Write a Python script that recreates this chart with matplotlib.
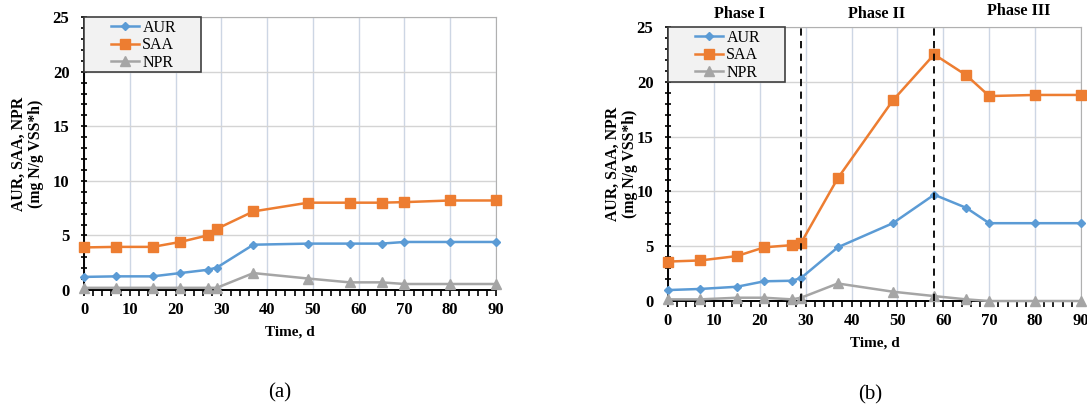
import matplotlib
matplotlib.use("Agg")
import matplotlib.pyplot as plt
from matplotlib.ticker import MultipleLocator
from matplotlib.patches import Rectangle

time_d = [0, 7, 15, 21, 27, 29, 37, 49, 58, 65, 70, 80, 90]

aur_a = [1.2, 1.25, 1.25, 1.55, 1.85, 2.05, 4.15, 4.25, 4.25, 4.25, 4.4, 4.4, 4.4]
saa_a = [3.9, 3.95, 3.95, 4.4, 5.0, 5.6, 7.2, 8.0, 8.0, 8.0, 8.05, 8.2, 8.2]
npr_a = [0.2, 0.2, 0.2, 0.2, 0.2, 0.2, 1.55, 1.05, 0.7, 0.7, 0.55, 0.55, 0.55]

aur_b = [1.0, 1.1, 1.3, 1.8, 1.85, 2.1, 4.9, 7.1, 9.7, 8.5, 7.1, 7.1, 7.1]
saa_b = [3.6, 3.7, 4.1, 4.9, 5.1, 5.3, 11.2, 18.3, 22.5, 20.6, 18.7, 18.8, 18.8]
npr_b = [0.15, 0.15, 0.3, 0.3, 0.15, 0.3, 1.6, 0.85, 0.45, 0.15, 0.0, 0.0, 0.0]

phase_bounds = [29, 58]
phase_labels = ["Phase I", "Phase II", "Phase III"]
phase_label_x = [15.5, 45.5, 76.5]

series_names = ["AUR", "SAA", "NPR"]
colors = ["#5B9BD5", "#ED7D31", "#A5A5A5"]
markers = ["D", "s", "^"]
msizes = [4.5, 6.5, 6.5]

plt.rcParams['font.family'] = ['Liberation Serif', 'DejaVu Serif']

fig = plt.figure(figsize=(10.87, 4.11), dpi=100)
ax_a = fig.add_axes([0.0773, 0.2944, 0.379, 0.664])
ax_b = fig.add_axes([0.6145, 0.2676, 0.380, 0.6667])

def style(ax, data, ylab_x):
    for vals, name, c, m, ms in zip(data, series_names, colors, markers, msizes):
        ax.plot(time_d, vals, color=c, marker=m, markersize=ms, lw=1.8, label=name,
                zorder=3, clip_on=False)
    ax.set_xlim(0, 90)
    ax.set_ylim(0, 25)
    ax.xaxis.set_major_locator(MultipleLocator(10))
    ax.yaxis.set_major_locator(MultipleLocator(5))
    ax.xaxis.set_minor_locator(MultipleLocator(2))
    ax.yaxis.set_minor_locator(MultipleLocator(1))
    ax.tick_params(axis='x', which='both', direction='out', length=4, width=1.2, colors='black')
    ax.tick_params(axis='y', which='both', direction='inout', length=5, width=1.2, colors='black')
    ax.tick_params(axis='x', which='major', labelsize=12, pad=4.5)
    ax.tick_params(axis='y', which='major', labelsize=12, pad=8)
    for lab in ax.get_xticklabels() + ax.get_yticklabels():
        lab.set_fontweight('bold')
    ax.grid(True, axis='x', which='major', color='#cdd6e4', lw=1)
    ax.grid(True, axis='y', which='major', color='#d4d4d4', lw=1)
    ax.set_axisbelow(True)
    for s in ['left', 'bottom']:
        ax.spines[s].set_color('black')
        ax.spines[s].set_linewidth(1.4)
    for s in ['top', 'right']:
        ax.spines[s].set_color('#b0b0b0')
    ax.set_ylabel("AUR, SAA, NPR\n(mg N/g VSS*h)", fontsize=11.3, fontweight='bold',
                  linespacing=1.1)
    ax.yaxis.set_label_coords(ylab_x, 0.5)
    ax.set_xlabel("Time, d", fontsize=11, fontweight='bold', labelpad=5.5)
    ax.add_patch(Rectangle((0, 0.8), 0.283, 0.2, transform=ax.transAxes,
                           facecolor='#f2f2f2', edgecolor='#404040', lw=1.2, zorder=5,
                           clip_on=False))
    leg = ax.legend(loc='upper left', bbox_to_anchor=(0.066, 0.99), borderaxespad=0,
                    frameon=False, fontsize=11.5, handlelength=1.75, handletextpad=0.2,
                    labelspacing=0.1, borderpad=0)
    leg.set_zorder(6)

style(ax_a, [aur_a, saa_a, npr_a], -0.097)
style(ax_b, [aur_b, saa_b, npr_b], -0.072)

for xb in phase_bounds:
    ax_b.axvline(xb, color='black', ls='--', lw=1.3, zorder=4, dashes=(4, 3))
phase_y = [25.5, 25.5, 25.77]
for lab, xp, yp in zip(phase_labels, phase_label_x, phase_y):
    ax_b.text(xp, yp, lab, ha='center', va='bottom', fontsize=11.7, fontweight='bold')

fig.text(280 / 1087, 1 - 393 / 411, "(a)", ha='center', va='center', fontsize=15)
fig.text(870 / 1087, 1 - 395 / 411, "(b)", ha='center', va='center', fontsize=15)

fig.savefig("out.png", dpi=100)
